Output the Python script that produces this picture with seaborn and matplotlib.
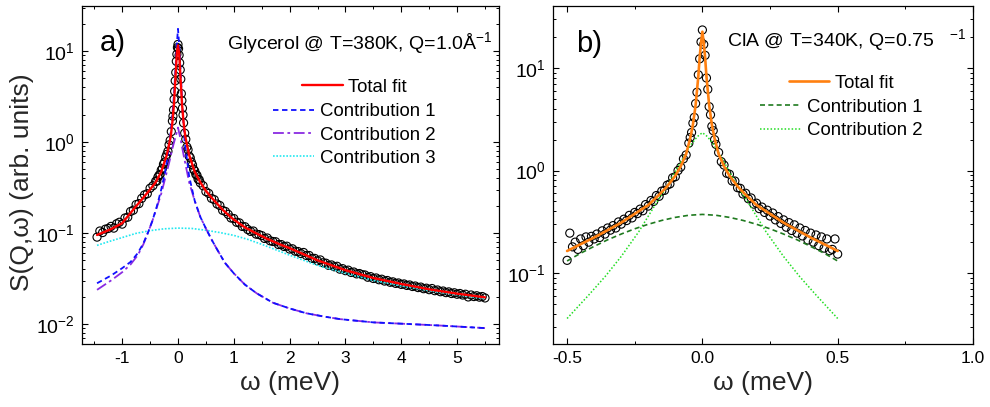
import matplotlib
matplotlib.use("Agg")
import matplotlib.pyplot as plt
import seaborn as sns
from matplotlib.legend import Legend
from matplotlib.ticker import MultipleLocator, LogLocator, NullFormatter, FormatStrFormatter

# ---------------- Panel a: Glycerol ----------------
a_data_w = [-1.45, -1.40, -1.35, -1.30, -1.25, -1.20, -1.15, -1.10, -1.05, -1.00,
            -0.95, -0.90, -0.85, -0.80, -0.75, -0.70, -0.65, -0.60, -0.55, -0.50, -0.45,
            -0.40, -0.38, -0.36, -0.34, -0.32, -0.30, -0.28, -0.26, -0.24, -0.22,
            -0.20, -0.18, -0.16, -0.14, -0.12, -0.10, -0.09, -0.08, -0.07, -0.06,
            -0.05, -0.04, -0.03, -0.02, -0.01, 0.00, 0.01, 0.02, 0.03, 0.04,
            0.05, 0.06, 0.07, 0.08, 0.09, 0.10, 0.12, 0.14, 0.16, 0.18,
            0.20, 0.22, 0.24, 0.26, 0.28, 0.30, 0.32, 0.34, 0.36, 0.38, 0.40,
            0.45, 0.50, 0.55, 0.60, 0.65, 0.70, 0.75, 0.80, 0.85, 0.90,
            0.95, 1.00, 1.05, 1.10, 1.15, 1.20, 1.25, 1.30, 1.35, 1.40,
            1.45, 1.50, 1.55, 1.60, 1.65, 1.70, 1.75, 1.80, 1.85, 1.90,
            1.95, 2.00, 2.05, 2.10, 2.15, 2.20, 2.25, 2.30, 2.35, 2.40,
            2.45, 2.50, 2.55, 2.60, 2.65, 2.70, 2.75, 2.80, 2.85, 2.90,
            2.95, 3.00, 3.05, 3.10, 3.15, 3.20, 3.25, 3.30, 3.35, 3.40,
            3.45, 3.50, 3.55, 3.60, 3.65, 3.70, 3.75, 3.80, 3.85, 3.90,
            3.95, 4.00, 4.05, 4.10, 4.15, 4.20, 4.25, 4.30, 4.35, 4.40,
            4.45, 4.50, 4.55, 4.60, 4.65, 4.70, 4.75, 4.80, 4.85, 4.90,
            4.95, 5.00, 5.05, 5.10, 5.15, 5.20, 5.25, 5.30, 5.35, 5.40,
            5.45, 5.50]
a_data_s = [0.090, 0.105, 0.101, 0.110, 0.112, 0.118, 0.113, 0.126, 0.131, 0.125,
            0.146, 0.149, 0.172, 0.178, 0.205, 0.210, 0.240, 0.262, 0.270, 0.310, 0.330,
            0.37, 0.37, 0.41, 0.43, 0.44, 0.49, 0.51, 0.57, 0.60, 0.68,
            0.73, 0.79, 0.93, 1.04, 1.30, 1.70, 1.92, 2.25, 2.95, 3.6,
            4.7, 5.8, 7.7, 9.2, 10.9, 11.8, 10.6, 9.0, 7.4, 6.2,
            4.9, 3.4, 2.85, 2.35, 1.98, 1.62, 1.25, 1.07, 0.88, 0.82,
            0.70, 0.67, 0.60, 0.56, 0.50, 0.48, 0.44, 0.43, 0.39, 0.385, 0.355,
            0.330, 0.285, 0.272, 0.240, 0.232, 0.208, 0.200, 0.177, 0.172, 0.160,
            0.146, 0.144, 0.131, 0.129, 0.118, 0.117, 0.109, 0.104, 0.105, 0.097,
            0.096, 0.0935, 0.087, 0.088, 0.082, 0.0805, 0.080, 0.0745, 0.0745, 0.071,
            0.0715, 0.0665, 0.067, 0.063, 0.0625, 0.0595, 0.0610, 0.0565, 0.0565, 0.0525,
            0.0525, 0.0495, 0.0505, 0.047, 0.0465, 0.044, 0.0445, 0.0425, 0.043, 0.040,
            0.0405, 0.0385, 0.0390, 0.0368, 0.0372, 0.0355, 0.0358, 0.0348, 0.0345, 0.0326,
            0.0331, 0.0316, 0.0320, 0.0306, 0.0310, 0.0296, 0.0300, 0.0287, 0.0290, 0.0279,
            0.0282, 0.0272, 0.0275, 0.0265, 0.0268, 0.0258, 0.0261, 0.0251, 0.0254, 0.0244,
            0.0247, 0.0238, 0.0245, 0.0232, 0.0236, 0.0226, 0.0230, 0.0221, 0.0225, 0.0216,
            0.0220, 0.0212, 0.0216, 0.0208, 0.0212, 0.0198, 0.0208, 0.0200, 0.0204, 0.0197,
            0.0200, 0.0193]

a_fit_w = [-1.45, -1.2, -1.0, -0.85, -0.74, -0.6, -0.5, -0.4, -0.3, -0.2,
           -0.13, -0.1, -0.072, -0.055, -0.039, -0.02, 0.0, 0.02, 0.039, 0.055,
           0.072, 0.1, 0.13, 0.2, 0.3, 0.4, 0.5, 0.6, 0.7, 0.8,
           0.9, 1.0, 1.2, 1.4, 1.6, 1.8, 2.0, 2.5, 3.0, 3.5,
           4.0, 4.5, 5.0, 5.5]
a_fit_s = [0.095, 0.110, 0.128, 0.166, 0.20, 0.253, 0.30, 0.36, 0.47, 0.72,
           1.15, 1.65, 2.6, 4.0, 6.0, 9.5, 11.5, 9.5, 6.0, 4.0,
           2.6, 1.65, 1.15, 0.72, 0.47, 0.36, 0.29, 0.245, 0.21, 0.18,
           0.158, 0.14, 0.115, 0.099, 0.086, 0.076, 0.068, 0.050, 0.039, 0.032,
           0.0275, 0.024, 0.0215, 0.0196]

a_c1_w = [-1.45, -1.2, -1.0, -0.85, -0.72, -0.62, -0.54, -0.46, -0.38, -0.3,
          -0.22, -0.15, -0.1, -0.07, -0.048, -0.02, 0.0, 0.02, 0.048, 0.08,
          0.12, 0.2, 0.3, 0.4, 0.5, 0.6, 0.7, 0.84, 1.0, 1.2,
          1.41, 1.7, 2.0, 2.3, 2.6, 2.9, 3.5, 4.1, 4.7, 5.5]
a_c1_s = [0.028, 0.034, 0.041, 0.048, 0.060, 0.077, 0.10, 0.135, 0.195, 0.30,
          0.50, 1.0, 2.0, 3.4, 5.9, 12.0, 17.5, 12.0, 5.9, 2.4,
          1.0, 0.42, 0.225, 0.15, 0.112, 0.085, 0.066, 0.047, 0.036, 0.027,
          0.0217, 0.0171, 0.0148, 0.0131, 0.0121, 0.0113, 0.0104, 0.0100, 0.0096, 0.0090]

a_c2_w = [-1.45, -1.2, -1.0, -0.85, -0.72, -0.62, -0.54, -0.46, -0.38, -0.3,
          -0.22, -0.15, -0.1, -0.05, 0.0, 0.05, 0.1, 0.2, 0.3, 0.4,
          0.5, 0.6, 0.7, 0.84, 1.0, 1.2, 1.41, 1.7, 2.0, 2.3,
          2.6, 2.9, 3.5, 4.1, 4.7, 5.5]
a_c2_s = [0.0237, 0.030, 0.037, 0.045, 0.057, 0.075, 0.10, 0.135, 0.19, 0.27,
          0.42, 0.62, 0.85, 1.1, 1.44, 1.05, 0.72, 0.36, 0.225, 0.15,
          0.112, 0.085, 0.066, 0.047, 0.036, 0.027, 0.0217, 0.0171, 0.0148, 0.0131,
          0.0121, 0.0113, 0.0104, 0.0100, 0.0096, 0.0090]

a_c3_w = [-1.45, -1.25, -1.0, -0.75, -0.5, -0.25, 0.0, 0.25, 0.5, 0.75,
          1.0, 1.25, 1.5, 2.0, 2.5, 3.0, 3.5, 4.0, 4.5, 5.0, 5.5]
a_c3_s = [0.073, 0.080, 0.089, 0.099, 0.106, 0.111, 0.113, 0.112, 0.107, 0.101,
          0.094, 0.085, 0.075, 0.057, 0.044, 0.036, 0.030, 0.0262, 0.0232, 0.0209, 0.0189]

a_labels = ["Total fit", "Contribution 1", "Contribution 2", "Contribution 3"]
a_xticks = [-1, 0, 1, 2, 3, 4, 5]

# ---------------- Panel b: ClA ----------------
b_data_w = [-0.50, -0.49, -0.48, -0.47, -0.46, -0.45, -0.44, -0.43, -0.42, -0.41,
            -0.40, -0.39, -0.38, -0.37, -0.36, -0.35, -0.34, -0.33, -0.32, -0.31,
            -0.30, -0.29, -0.28, -0.27, -0.26, -0.25, -0.24, -0.23, -0.22, -0.21,
            -0.20, -0.19, -0.18, -0.17, -0.16, -0.15, -0.14, -0.13, -0.12, -0.11,
            -0.10, -0.09, -0.08, -0.07, -0.06, -0.05,
            -0.045, -0.040, -0.035, -0.030, -0.025, -0.020, -0.015, -0.010, -0.005, 0.000,
            0.005, 0.010, 0.015, 0.020, 0.025, 0.030, 0.035, 0.040, 0.045,
            0.05, 0.06, 0.07, 0.08, 0.09, 0.10, 0.11, 0.12, 0.13, 0.14,
            0.15, 0.16, 0.17, 0.18, 0.19, 0.20, 0.21, 0.22, 0.23, 0.24,
            0.25, 0.26, 0.27, 0.28, 0.29, 0.30, 0.31, 0.32, 0.33, 0.34,
            0.35, 0.36, 0.37, 0.38, 0.39, 0.40, 0.41, 0.42, 0.43, 0.44,
            0.45, 0.46, 0.47, 0.48, 0.49, 0.50]
b_data_s = [0.133, 0.245, 0.180, 0.200, 0.170, 0.215, 0.185, 0.225, 0.200, 0.228,
            0.215, 0.240, 0.222, 0.258, 0.240, 0.275, 0.262, 0.290, 0.275, 0.315,
            0.300, 0.335, 0.325, 0.365, 0.345, 0.390, 0.380, 0.420, 0.405, 0.465,
            0.450, 0.510, 0.500, 0.570, 0.560, 0.630, 0.640, 0.720, 0.740, 0.850,
            0.870, 1.00, 1.08, 1.30, 1.42, 1.85,
            2.10, 2.35, 2.9, 3.3, 4.5, 5.8, 8.6, 12.3, 18.0, 23.5,
            17.0, 13.3, 8.0, 6.2, 4.2, 3.5, 2.7, 2.45, 2.0,
            1.80, 1.50, 1.22, 1.13, 0.94, 0.92, 0.79, 0.79, 0.68, 0.67,
            0.59, 0.60, 0.53, 0.54, 0.47, 0.48, 0.425, 0.44, 0.39, 0.41,
            0.36, 0.385, 0.33, 0.355, 0.305, 0.33, 0.28, 0.31, 0.26, 0.295,
            0.245, 0.275, 0.23, 0.26, 0.21, 0.245, 0.20, 0.235, 0.185, 0.225,
            0.175, 0.215, 0.165, 0.17, 0.215, 0.153]

b_fit_w = [-0.5, -0.45, -0.4, -0.35, -0.3, -0.25, -0.2, -0.16, -0.13, -0.1,
           -0.08, -0.06, -0.045, -0.035, -0.025, -0.015, -0.01, -0.005, 0.0,
           0.005, 0.01, 0.015, 0.025, 0.035, 0.045, 0.06, 0.08, 0.1, 0.13,
           0.16, 0.2, 0.25, 0.3, 0.35, 0.4, 0.45, 0.5]
b_fit_s = [0.164, 0.191, 0.222, 0.262, 0.31, 0.378, 0.46, 0.58, 0.70, 0.89,
           1.10, 1.45, 2.06, 2.8, 4.35, 8.3, 12.8, 17.5, 22.6,
           17.5, 12.8, 8.3, 4.35, 2.8, 2.06, 1.45, 1.10, 0.89, 0.70,
           0.58, 0.46, 0.378, 0.31, 0.262, 0.222, 0.191, 0.164]

b_c1_w = [-0.5, -0.45, -0.4, -0.35, -0.3, -0.25, -0.2, -0.15, -0.1, -0.05, 0.0,
          0.05, 0.1, 0.15, 0.2, 0.25, 0.3, 0.35, 0.4, 0.45, 0.5]
b_c1_s = [0.131, 0.156, 0.182, 0.211, 0.240, 0.270, 0.299, 0.326, 0.349, 0.366, 0.373,
          0.366, 0.349, 0.326, 0.299, 0.270, 0.240, 0.211, 0.182, 0.156, 0.131]

b_c2_w = [-0.5, -0.42, -0.36, -0.3, -0.235, -0.175, -0.135, -0.1, -0.063, -0.038, -0.018, 0.0,
          0.018, 0.038, 0.063, 0.1, 0.135, 0.175, 0.235, 0.3, 0.36, 0.42, 0.5]
b_c2_s = [0.036, 0.061, 0.092, 0.145, 0.253, 0.46, 0.67, 0.98, 1.45, 1.85, 2.15, 2.34,
          2.15, 1.85, 1.45, 0.98, 0.67, 0.46, 0.253, 0.145, 0.092, 0.061, 0.036]

b_labels = ["Total fit", "Contribution 1", "Contribution 2"]
b_xticks = [-0.5, 0.0, 0.5, 1.0]

# ---------------- Style ----------------
sns.set_theme(style="ticks")
plt.rcParams.update({
    "font.family": ["Liberation Sans", "DejaVu Sans"],
    "mathtext.fontset": "custom",
    "mathtext.rm": "Liberation Sans",
    "mathtext.it": "Liberation Sans:italic",
    "mathtext.bf": "Liberation Sans:bold",
    "mathtext.default": "regular",
    "axes.unicode_minus": False,
    "xtick.direction": "in",
    "ytick.direction": "in",
    "xtick.top": True,
    "ytick.right": True,
    "axes.linewidth": 0.9,
    "axes.edgecolor": "black",
    "xtick.color": "black",
    "ytick.color": "black",
    "text.color": "black",
})

fig = plt.figure(figsize=(9.9, 4.07), dpi=100)
ax_a = fig.add_axes([0.0828, 0.1548, 0.4212, 0.8305])
ax_b = fig.add_axes([0.5586, 0.1548, 0.4242, 0.8305])

circ = dict(marker="o", s=34, facecolor="none", edgecolor="black", linewidth=0.8, legend=False)
line_kw = dict(estimator=None, sort=False, errorbar=None, legend=False)

# Panel a
sns.scatterplot(x=a_data_w, y=a_data_s, ax=ax_a, **circ)
sns.lineplot(x=a_c3_w, y=a_c3_s, ax=ax_a, color="#22e8f0", lw=1.2,
             linestyle=(0, (1, 1)), label=a_labels[3], **line_kw)
sns.lineplot(x=a_c2_w, y=a_c2_s, ax=ax_a, color="#8a2be2", lw=1.3,
             linestyle=(0, (6, 2, 1.5, 2)), label=a_labels[2], **line_kw)
sns.lineplot(x=a_c1_w, y=a_c1_s, ax=ax_a, color="#1010ff", lw=1.3,
             linestyle=(0, (3, 2)), label=a_labels[1], **line_kw)
sns.lineplot(x=a_fit_w, y=a_fit_s, ax=ax_a, color="#ff0000", lw=1.7,
             linestyle="-", label=a_labels[0], **line_kw)

# Panel b
sns.scatterplot(x=b_data_w, y=b_data_s, ax=ax_b, **circ)
sns.lineplot(x=b_c2_w, y=b_c2_s, ax=ax_b, color="#22dd22", lw=1.1,
             linestyle=(0, (1, 1.3)), label=b_labels[2], **line_kw)
sns.lineplot(x=b_c1_w, y=b_c1_s, ax=ax_b, color="#1f7a1f", lw=1.2,
             linestyle=(0, (3, 2)), label=b_labels[1], **line_kw)
sns.lineplot(x=b_fit_w, y=b_fit_s, ax=ax_b, color="#ff8010", lw=1.9,
             linestyle="-", label=b_labels[0], **line_kw)

for ax in (ax_a, ax_b):
    ax.set_yscale("log")
    ax.yaxis.set_major_locator(LogLocator(base=10, numticks=12))
    ax.yaxis.set_minor_locator(LogLocator(base=10, subs=range(2, 10), numticks=12))
    ax.yaxis.set_minor_formatter(NullFormatter())
    ax.tick_params(which="both", direction="in", top=True, right=True,
                   bottom=True, left=True)
    ax.tick_params(which="major", length=4.5, width=0.8, pad=5)
    ax.tick_params(which="minor", length=2.5, width=0.7)
    ax.tick_params(axis="x", labelsize=12.5)
    ax.tick_params(axis="y", labelsize=14)
    ax.set_xlabel("ω (meV)", fontsize=19)
    ax.xaxis.set_label_coords(0.5, -0.081)
    for sp in ax.spines.values():
        sp.set_visible(True)
        sp.set_color("black")

ax_a.set_xlim(-1.72, 5.75)
ax_a.set_ylim(0.00602, 31.2)
ax_a.set_xticks(a_xticks)
ax_a.xaxis.set_minor_locator(MultipleLocator(0.5))
ax_a.xaxis.set_major_formatter(FormatStrFormatter("%d"))
ax_a.set_ylabel("S(Q,ω) (arb. units)", fontsize=19)
ax_a.yaxis.set_label_coords(-0.115, 0.478)

ax_b.set_xlim(-0.552, 1.0)
ax_b.set_ylim(0.0203, 40.3)
ax_b.set_xticks(b_xticks)
ax_b.xaxis.set_minor_locator(MultipleLocator(0.25))
ax_b.xaxis.set_major_formatter(FormatStrFormatter("%.1f"))
ax_b.set_ylabel("")

# Legends: one centred entry per row (each drawn exactly once)
def add_entries(ax, labels, centers_x, rows_y):
    handles, labs = ax.get_legend_handles_labels()
    lookup = dict(zip(labs, handles))
    for lab, cx, cy in zip(labels, centers_x, rows_y):
        leg = Legend(ax, [lookup[lab]], [lab], loc="center", bbox_to_anchor=(cx, cy),
                     bbox_transform=ax.transAxes, frameon=False, fontsize=13.4,
                     handlelength=2.2, handletextpad=0.3, borderpad=0,
                     borderaxespad=0)
        ax.add_artist(leg)

add_entries(ax_a, a_labels, [0.6535] * 4, [0.759, 0.6864, 0.6175, 0.5503])
add_entries(ax_b, b_labels, [0.686] * 3, [0.7713, 0.7003, 0.631])

ax_a.text(0.347, 0.872, "Glycerol @ T=380K, Q=1.0Å$^{-1}$", transform=ax_a.transAxes,
          fontsize=14, ha="left", va="baseline")
ax_b.text(0.415, 0.8817, "ClA @ T=340K, Q=0.75   $^{-1}$", transform=ax_b.transAxes,
          fontsize=14, ha="left", va="baseline")
ax_a.text(0.043, 0.868, "a)", transform=ax_a.transAxes, fontsize=21, ha="left", va="baseline")
ax_b.text(0.056, 0.863, "b)", transform=ax_b.transAxes, fontsize=21, ha="left", va="baseline")

fig.savefig("out.png", dpi=100)
